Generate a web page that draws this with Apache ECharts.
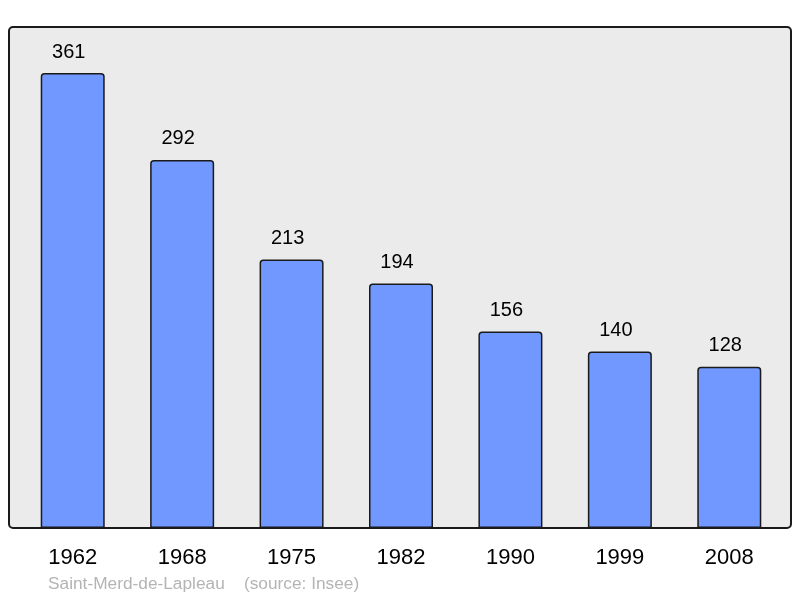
<!DOCTYPE html>
<html><head><meta charset="utf-8">
<script src="https://cdn.jsdelivr.net/npm/echarts@6/dist/echarts.min.js"></script>
<style>html,body{margin:0;padding:0;background:#fff}#c{width:800px;height:598px}</style>
</head><body><div id="c"></div>
<script>
const years = ['1962','1968','1975','1982','1990','1999','2008'];
const population = [361, 292, 213, 194, 156, 140, 128];
const footerText = 'Saint-Merd-de-Lapleau    (source: Insee)';

const chart = echarts.init(document.getElementById('c'), null, {renderer: 'canvas'});
chart.setOption({
  animation: false,
  textStyle: {fontFamily: 'Liberation Sans, Arial, sans-serif'},
  graphic: [
    {type: 'rect', z: -10, shape: {x: 9, y: 27, width: 782, height: 501, r: 4},
     style: {fill: '#ebebeb', stroke: '#1a1a1a', lineWidth: 2}},
    {type: 'text', left: 48, top: 576,
     style: {text: footerText, fill: '#b4b4b4', fontSize: 17.3, fontFamily: 'Liberation Sans, Arial, sans-serif'}}
  ],
  grid: {left: 18, width: 766, top: 27, bottom: 70, containLabel: false},
  xAxis: {
    type: 'category', data: years,
    axisLine: {show: false}, axisTick: {show: false},
    axisLabel: {color: '#000', fontSize: 22, margin: 19}
  },
  yAxis: {
    type: 'value', min: 0, max: 397.5,
    show: false, splitLine: {show: false}
  },
  series: [{
    type: 'bar', data: population, barWidth: 64,
    itemStyle: {color: '#7098ff', borderColor: '#1a1a1a', borderWidth: 1.5, borderRadius: [3,3,0,0]},
    label: {show: true, position: 'top', distance: 11, offset: [-4, 0], color: '#000', fontSize: 20}
  }]
});
</script></body></html>
